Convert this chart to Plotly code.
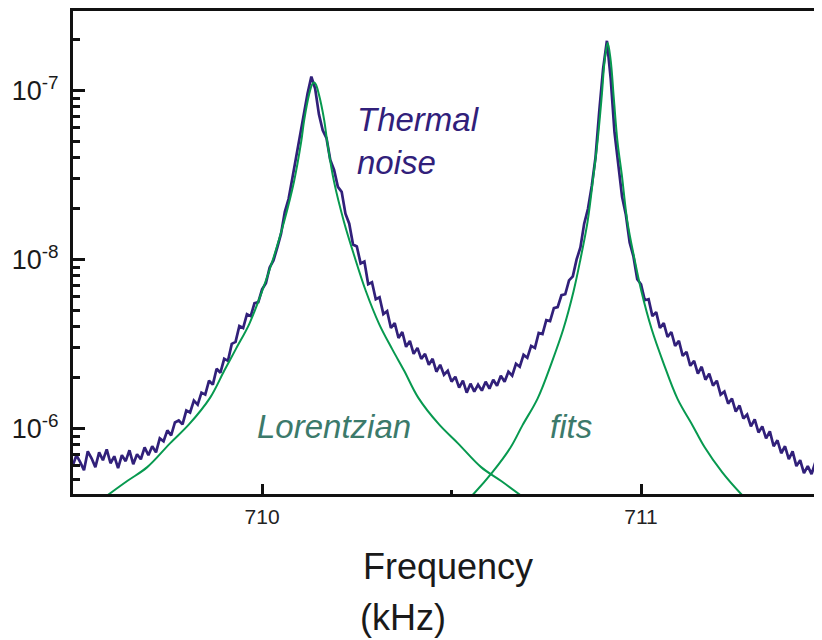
import plotly.graph_objects as go

# 数据: 频率 (kHz) 与热噪声谱 (单位 1e-9)
freq = [
    709.50, 709.51, 709.52, 709.53, 709.54, 709.55, 709.56, 709.57, 709.58, 709.59,
    709.60, 709.61, 709.62, 709.63, 709.64, 709.65, 709.66, 709.67, 709.68, 709.69,
    709.70, 709.71, 709.72, 709.73, 709.74, 709.75, 709.76, 709.77, 709.78, 709.79,
    709.80, 709.81, 709.82, 709.83, 709.84, 709.85, 709.86, 709.87, 709.88, 709.89,
    709.90, 709.91, 709.92, 709.93, 709.94, 709.95, 709.96, 709.97, 709.98, 709.99,
    710.00, 710.01, 710.02, 710.03, 710.04, 710.05, 710.06, 710.07, 710.08, 710.09,
    710.10, 710.11, 710.12, 710.13, 710.14, 710.15, 710.16, 710.17, 710.18, 710.19,
    710.20, 710.21, 710.22, 710.23, 710.24, 710.25, 710.26, 710.27, 710.28, 710.29,
    710.30, 710.31, 710.32, 710.33, 710.34, 710.35, 710.36, 710.37, 710.38, 710.39,
    710.40, 710.41, 710.42, 710.43, 710.44, 710.45, 710.46, 710.47, 710.48, 710.49,
    710.50, 710.51, 710.52, 710.53, 710.54, 710.55, 710.56, 710.57, 710.58, 710.59,
    710.60, 710.61, 710.62, 710.63, 710.64, 710.65, 710.66, 710.67, 710.68, 710.69,
    710.70, 710.71, 710.72, 710.73, 710.74, 710.75, 710.76, 710.77, 710.78, 710.79,
    710.80, 710.81, 710.82, 710.83, 710.84, 710.85, 710.86, 710.87, 710.88, 710.89,
    710.90, 710.91, 710.92, 710.93, 710.94, 710.95, 710.96, 710.97, 710.98, 710.99,
    711.00, 711.01, 711.02, 711.03, 711.04, 711.05, 711.06, 711.07, 711.08, 711.09,
    711.10, 711.11, 711.12, 711.13, 711.14, 711.15, 711.16, 711.17, 711.18, 711.19,
    711.20, 711.21, 711.22, 711.23, 711.24, 711.25, 711.26, 711.27, 711.28, 711.29,
    711.30, 711.31, 711.32, 711.33, 711.34, 711.35, 711.36, 711.37, 711.38, 711.39,
    711.40, 711.41, 711.42, 711.43, 711.44, 711.45, 711.46, 711.47, 711.48,
]
noise = [
    0.598, 0.694, 0.631, 0.566, 0.732, 0.666, 0.590, 0.722, 0.648, 0.752,
    0.622, 0.684, 0.582, 0.694, 0.640, 0.742, 0.614, 0.703, 0.657, 0.773,
    0.694, 0.784, 0.722, 0.873, 0.839, 0.973, 0.910, 1.085, 1.114, 1.056,
    1.276, 1.242, 1.461, 1.384, 1.629, 1.585, 1.916, 1.815, 2.255, 2.136,
    2.581, 2.512, 3.163, 3.250, 4.036, 3.928, 4.748, 4.621, 5.511, 5.587,
    6.662, 7.226, 8.975, 9.865, 11.77, 14.22, 19.16, 22.85, 30.37, 40.36,
    55.87, 72.26, 96.04, 120.9, 102.7, 72.26, 58.18, 52.21, 38.75, 33.84,
    26.88, 25.12, 18.65, 16.29, 12.25, 11.93, 9.475, 9.733, 7.129, 7.325,
    5.818, 5.978, 4.748, 4.945, 3.928, 4.203, 3.430, 3.721, 3.037, 3.294,
    2.762, 2.996, 2.581, 2.762, 2.380, 2.581, 2.165, 2.380, 2.079, 2.194,
    1.891, 2.023, 1.743, 1.916, 1.629, 1.840, 1.651, 1.815, 1.674, 1.891,
    1.720, 1.942, 1.791, 2.051, 1.891, 2.165, 2.051, 2.413, 2.317, 2.725,
    2.616, 3.078, 2.996, 3.671, 3.621, 4.378, 4.319, 5.150, 5.221, 6.142,
    6.226, 7.526, 7.945, 10.00, 11.77, 16.29, 19.96, 27.25, 40.36, 76.29,
    134.7, 196.9, 117.7, 56.63, 36.21, 23.48, 18.40, 12.59, 10.42, 7.629,
    7.129, 5.740, 5.818, 4.621, 4.879, 3.928, 4.203, 3.477, 3.721, 3.078,
    3.294, 2.688, 2.838, 2.348, 2.512, 2.107, 2.317, 1.942, 2.107, 1.791,
    1.916, 1.585, 1.651, 1.403, 1.502, 1.259, 1.366, 1.145, 1.209, 1.027,
    1.130, 0.947, 1.027, 0.873, 0.960, 0.784, 0.850, 0.713, 0.784, 0.657,
    0.732, 0.598, 0.648, 0.544, 0.598, 0.536, 0.631, 0.598, 0.703,
]

# 洛伦兹拟合曲线
fit1_freq = [709.575, 709.644, 709.697, 709.757, 709.807, 709.863, 709.900, 709.931,
             709.966, 710.000, 710.032, 710.058, 710.084, 710.103, 710.111, 710.124,
             710.132, 710.137, 710.142, 710.150, 710.164, 710.172, 710.190, 710.216,
             710.243, 710.274, 710.309, 710.343, 710.375, 710.412, 710.467, 710.517,
             710.578, 710.631, 710.699]
fit1_psd = [0.377, 0.488, 0.590, 0.816, 1.056, 1.522, 2.194, 2.956,
            4.147, 6.484, 10.56, 16.74, 28.77, 49.45, 66.62, 94.75,
            108.5, 111.4, 108.5, 94.75, 66.62, 49.45, 28.77, 16.74,
            10.56, 6.484, 4.147, 2.956, 2.194, 1.522, 1.056, 0.816,
            0.590, 0.488, 0.377]

fit2_freq = [710.537, 710.558, 710.608, 710.656, 710.687, 710.727, 710.764, 710.795,
             710.822, 710.840, 710.859, 710.875, 710.885, 710.896, 710.904, 710.912,
             710.920, 710.928, 710.938, 710.949, 710.964, 710.983, 711.001, 711.028,
             711.059, 711.096, 711.136, 711.168, 711.214, 711.264, 711.285]
fit2_psd = [0.367, 0.409, 0.551, 0.773, 1.042, 1.502, 2.446, 3.875,
            6.484, 10.00, 16.74, 32.06, 49.45, 90.98, 150.2, 191.6,
            150.2, 90.98, 49.45, 32.06, 16.74, 10.00, 6.484, 3.875,
            2.446, 1.502, 1.042, 0.773, 0.551, 0.409, 0.367]

scale = 1e-9
ytick_vals = [1e-9, 1e-8, 1e-7]
ytick_text = ["10<sup>-6</sup>", "10<sup>-8</sup>", "10<sup>-7</sup>"]
xtick_vals = [710, 711]
xtick_text = ["710", "711"]

FONT = "Liberation Sans, Arial, sans-serif"
INDIGO = "#31207a"
GREEN = "#07994f"
TEAL = "#3c7a6b"

fig = go.Figure()

fig.add_trace(go.Scatter(
    x=freq, y=[v * scale for v in noise],
    mode="lines", line=dict(color=INDIGO, width=2.7),
    showlegend=False,
))
fig.add_trace(go.Scatter(
    x=fit1_freq, y=[v * scale for v in fit1_psd],
    mode="lines", line=dict(color=GREEN, width=2, shape="spline"),
    showlegend=False,
))
fig.add_trace(go.Scatter(
    x=fit2_freq, y=[v * scale for v in fit2_psd],
    mode="lines", line=dict(color=GREEN, width=2, shape="spline"),
    showlegend=False,
))

minor_y = [m * 10.0 ** e for e in (-10, -9, -8, -7) for m in range(2, 10)]
minor_y = [v for v in minor_y if 4.1e-10 < v < 2.9e-7]

# 页面 body 有 8px 边距, 这里边距相应减小; 绘图区向右延伸到画面之外
fig.update_layout(
    width=822, height=640,
    margin=dict(l=65, r=0, t=0, b=154),
    plot_bgcolor="white", paper_bgcolor="white",
    font=dict(family=FONT, color="#1a1a1a"),
    xaxis=dict(
        range=[709.501, 711.4987],
        tickvals=xtick_vals, ticktext=xtick_text,
        ticks="inside", ticklen=10, tickwidth=3, tickcolor="#111",
        minor=dict(tickvals=[710.5], ticks="inside", ticklen=4, tickwidth=3, tickcolor="#111"),
        showline=True, linecolor="#111", linewidth=3, mirror=True,
        showgrid=False, zeroline=False,
        tickfont=dict(size=21, color="#222"),
        ticklabelstandoff=2,
    ),
    yaxis=dict(
        type="log",
        range=[-9.3882, -6.5294],
        tickvals=ytick_vals, ticktext=ytick_text,
        ticks="inside", ticklen=12, tickwidth=3, tickcolor="#111",
        minor=dict(tickvals=minor_y, ticks="inside", ticklen=7, tickwidth=3, tickcolor="#111"),
        showline=True, linecolor="#111", linewidth=3,
        showgrid=False, zeroline=False,
        tickfont=dict(size=27, color="#1a1a1a"),
        ticklabelstandoff=6,
    ),
)

# 文本标注
fig.add_annotation(x=0.372, y=0.730, xref="paper", yref="paper",
                   text="<i>Thermal<br>noise</i>", showarrow=False,
                   xanchor="left", yanchor="middle", align="left",
                   font=dict(size=33, color=INDIGO, family=FONT))
fig.add_annotation(x=0.240, y=0.1396, xref="paper", yref="paper",
                   text="<i>Lorentzian</i>", showarrow=False,
                   xanchor="left", yanchor="middle",
                   font=dict(size=33, color=TEAL, family=FONT))
fig.add_annotation(x=0.627, y=0.1396, xref="paper", yref="paper",
                   text="<i>fits</i>", showarrow=False,
                   xanchor="left", yanchor="middle",
                   font=dict(size=33, color=TEAL, family=FONT))
fig.add_annotation(x=0.381, y=-0.150, xref="paper", yref="paper",
                   text="Frequency", showarrow=False,
                   xanchor="left", yanchor="middle",
                   font=dict(size=36, color="#1a1a1a", family=FONT))
fig.add_annotation(x=0.377, y=-0.256, xref="paper", yref="paper",
                   text="(kHz)", showarrow=False,
                   xanchor="left", yanchor="middle",
                   font=dict(size=36, color="#1a1a1a", family=FONT))

fig.write_html("out.html")
